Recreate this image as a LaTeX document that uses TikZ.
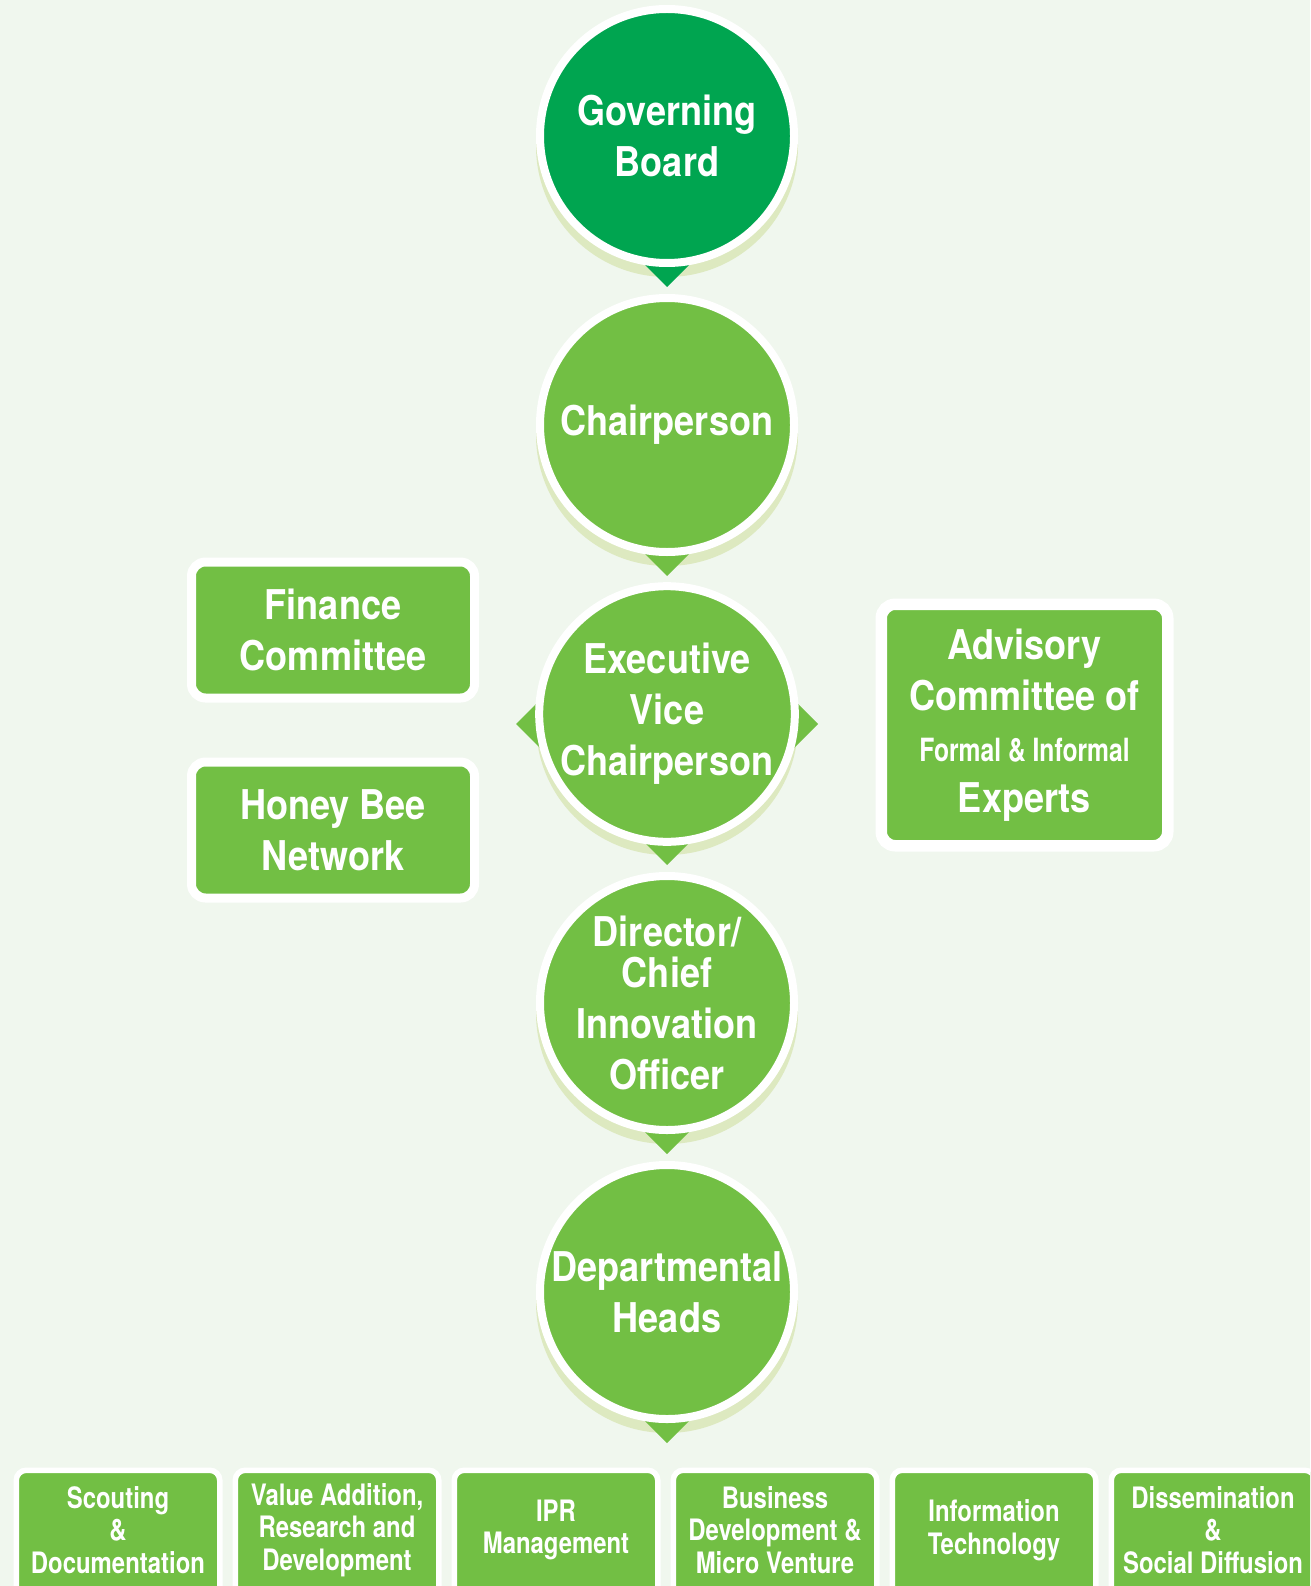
\documentclass[tikz,border=0pt]{standalone}
\usepackage{fontspec}
\newfontfamily\orgfont[FakeStretch=0.88]{TeX Gyre Heros}
\newfontfamily\orgnarrow[FakeStretch=0.81]{TeX Gyre Heros}
\newfontfamily\orgnarrower[FakeStretch=0.77]{TeX Gyre Heros}
\newcommand\unitfont{\orgfont\bfseries\fontsize{41pt}{51pt}\selectfont}
\newcommand\deptfont{\orgnarrow\bfseries\fontsize{29.5pt}{32.5pt}\selectfont}
\newcommand\formalfont{\orgnarrower\bfseries\fontsize{32pt}{50pt}\selectfont}

\definecolor{bgmint}{RGB}{240,247,238}
\definecolor{boardgreen}{RGB}{0,165,80}
\definecolor{leafgreen}{RGB}{114,191,68}
\definecolor{shadowgreen}{RGB}{221,233,192}

\tikzset{
  every unit/.style={circle, fill=leafgreen, draw=white, line width=8pt,
    minimum size=254pt, inner sep=0pt, outer sep=0pt, text=white,
    align=center, font=\unitfont},
  unit board/.style={fill=boardgreen},
  pointer/.style={fill=leafgreen},
  pointer board/.style={fill=boardgreen},
  unit shadow/.style={fill=shadowgreen},
  side box/.style={rectangle, rounded corners=14pt, fill=leafgreen,
    draw=white, line width=9pt, minimum width=283pt, minimum height=136pt,
    outer sep=0pt, text=white, align=center, font=\unitfont},
  dept box/.style={rectangle, rounded corners=10pt, fill=leafgreen,
    draw=white, line width=5.5pt, minimum width=203.5pt,
    minimum height=160pt, outer sep=0pt, anchor=north},
  dept text/.style={text=white, align=center, font=\deptfont},
}

\begin{document}
\begin{tikzpicture}[x=1pt, y=-1pt]

    \useasboundingbox (0,0) rectangle (1310,1586);
    \clip (0,0) rectangle (1310,1586);
    \fill [bgmint] (0,0) rectangle (1310,1586);

    % shadows and pointers
    \foreach \m [count=\y from 0] in {board,chair,exec,dir,heads}
    {
    \coordinate (\m-c) at (667,136+\y*289);
    \fill [unit shadow] (\m-c) ++(0,10) circle (131pt);
    \fill [pointer, pointer \m/.try] (\m-c) ++(-40,111) -- ++(80,0) -- ++(-40,40) -- cycle;
    }
    \fill [pointer] (exec-c) ++(111,-30) -- ++(40,40) -- ++(-40,40) -- cycle;
    \fill [pointer] (exec-c) ++(-111,-30) -- ++(-40,40) -- ++(40,40) -- cycle;

    % units
    \foreach \m/\l in {board/{Governing\\Board}, chair/Chairperson,
      exec/{Executive\\Vice\\Chairperson},
      dir/{Director/\\[-10pt]Chief\\Innovation\\Officer},
      heads/{Departmental\\Heads}}
    \node [every unit/.try, unit \m/.try] (\m) at (\m-c) {\l};

    % committees
    \node [side box] (finance) at (333,630) {Finance\\Committee};
    \node [side box] (honeybee) at (333,830) {Honey Bee\\Network};
    \node [side box, line width=11.5pt, minimum width=286.5pt,
      minimum height=241.5pt] (advisory) at (1024.5,725)
      {Advisory\\Committee of\\{\formalfont Formal \& Informal}\\Experts};

    % departments
    \foreach \l [count=\i from 0] in {{Scouting\\\&\\Documentation},
      {Value Addition,\\Research and\\Development}, {IPR\\Management},
      {Business\\Development \&\\Micro Venture}, {Information\\Technology},
      {Dissemination\\\&\\Social Diffusion}}
    {
    \node [dept box] (dept-\i) at (118+\i*219,1470.25) {};
    \node [dept text] (dept-\i-txt) at (118+\i*219,1530) {\l};
    }

\end{tikzpicture}
\end{document}
